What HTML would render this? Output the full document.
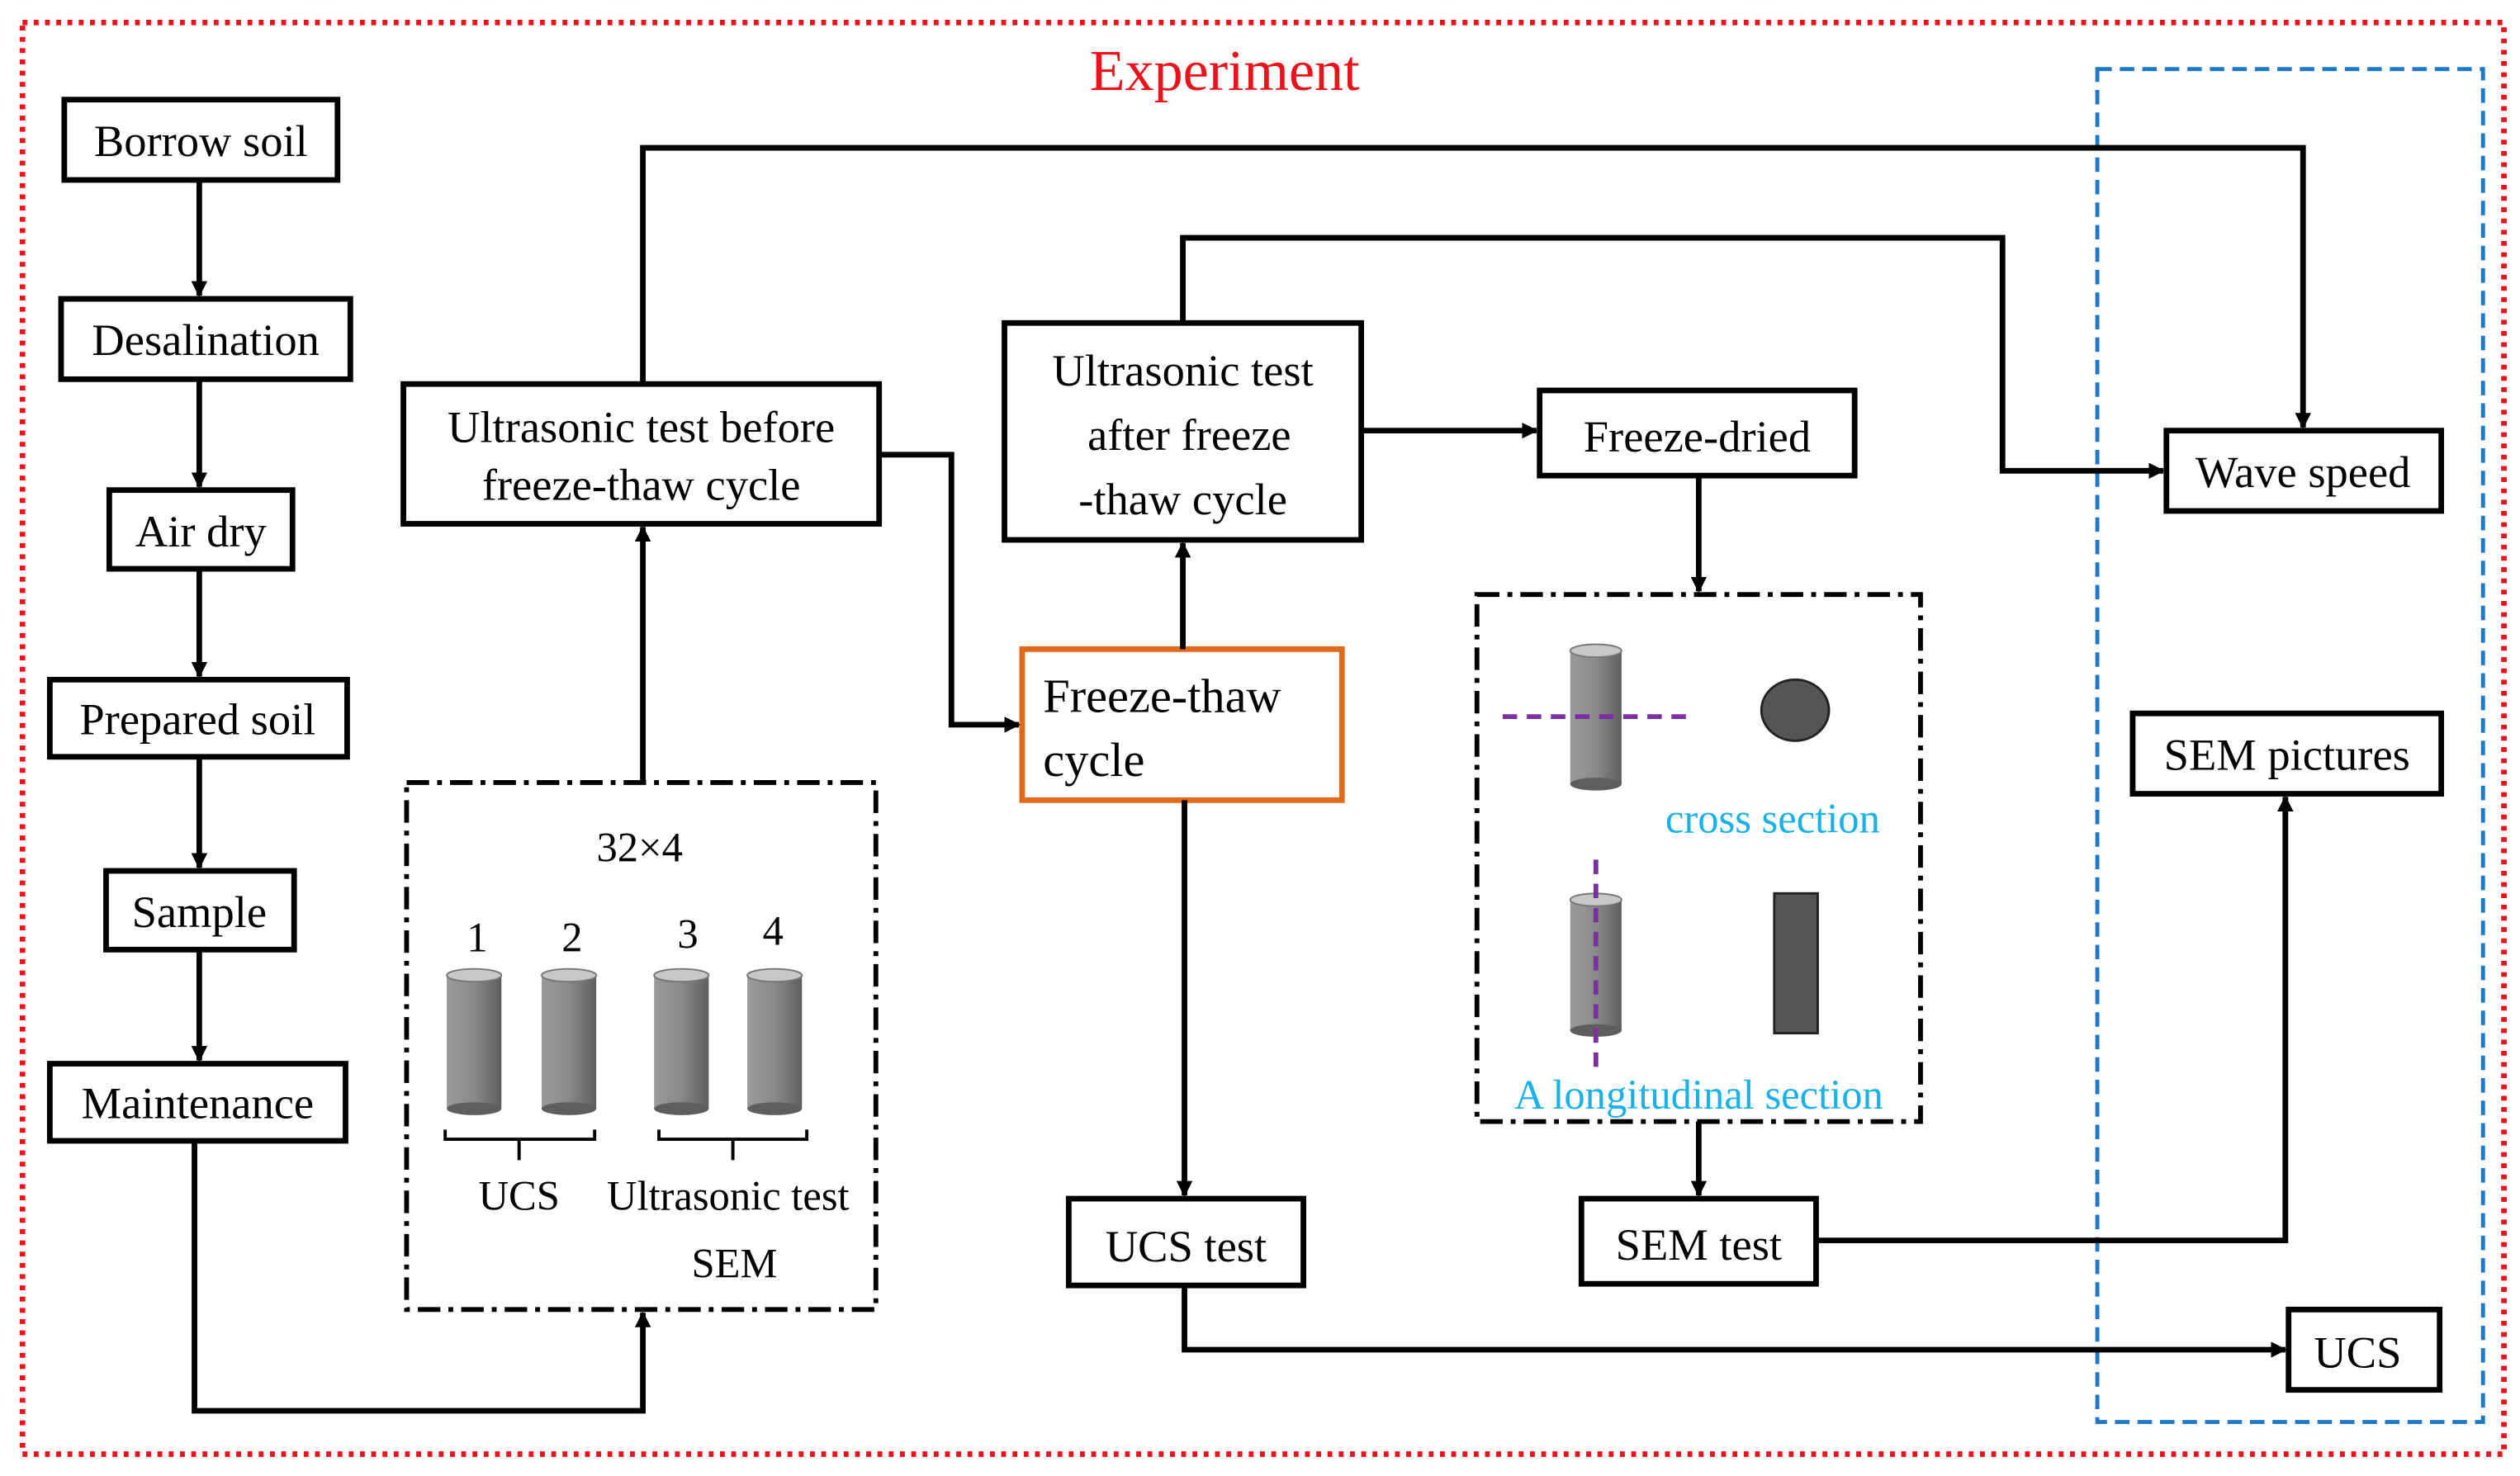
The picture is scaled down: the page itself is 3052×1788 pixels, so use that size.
<!DOCTYPE html>
<html><head><meta charset="utf-8"><style>
html,body{margin:0;padding:0;background:#fff;width:3052px;height:1788px;overflow:hidden}
svg{display:block}
text{font-family:"Liberation Serif",serif;}
</style></head><body>
<svg width="3052" height="1788" viewBox="0 0 1568 918.6" preserveAspectRatio="none" xmlns="http://www.w3.org/2000/svg">
<defs>
<marker id="a" markerWidth="10" markerHeight="10" refX="9" refY="5" orient="auto" markerUnits="userSpaceOnUse"><path d="M0,0 L10,5 L0,10 z" fill="#000"/></marker>
<linearGradient id="g" x1="0" y1="0" x2="1" y2="0"><stop offset="0" stop-color="#9a9a9a"/><stop offset="0.5" stop-color="#8a8a8a"/><stop offset="1" stop-color="#5e5e5e"/></linearGradient>
<g id="cyl">
<rect x="-17" y="0" width="34" height="83" fill="url(#g)"/>
<ellipse cx="0" cy="83" rx="17" ry="4" fill="#5e5e5e"/>
<ellipse cx="0" cy="0" rx="17" ry="4" fill="#c8c8c8" stroke="#777" stroke-width="1"/>
</g>
</defs>
<rect x="0" y="0" width="1568" height="918.6" fill="#fff"/>
<rect x="14" y="14" width="1544" height="891" fill="none" stroke="#e8131b" stroke-width="3.5" stroke-dasharray="3,4"/>
<rect x="1305" y="43" width="240" height="842" fill="none" stroke="#1f78c8" stroke-width="2.5" stroke-dasharray="9,5"/>
<text x="762" y="56" font-size="36" fill="#e8131b" text-anchor="middle">Experiment</text>

<g fill="#fff" stroke="#000" stroke-width="3.5">
<rect x="40" y="62" width="170" height="50"/>
<rect x="38" y="186" width="180" height="50"/>
<rect x="68" y="305" width="114" height="49"/>
<rect x="31" y="423" width="185" height="48"/>
<rect x="66" y="542" width="117" height="49"/>
<rect x="31" y="662" width="184" height="48"/>
<rect x="251" y="239" width="296" height="87"/>
<rect x="625" y="201" width="222" height="135"/>
<rect x="958" y="243" width="196" height="53"/>
<rect x="1348" y="268" width="171" height="50"/>
<rect x="1327" y="444" width="192" height="50"/>
<rect x="665" y="746" width="146" height="54"/>
<rect x="984" y="746" width="146" height="53"/>
<rect x="1424" y="815" width="94" height="50"/>
</g>
<rect x="636" y="404" width="199" height="94" fill="#fff" stroke="#e06a1a" stroke-width="3.5"/>
<g fill="none" stroke="#000" stroke-width="3" stroke-dasharray="14,5,3,5">
<rect x="253" y="487" width="292" height="328"/>
<rect x="919" y="370" width="276" height="328"/>
</g>

<g fill="none" stroke="#000" stroke-width="3.5" marker-end="url(#a)">
<path d="M124,112 V184"/>
<path d="M124,236 V303"/>
<path d="M124,354 V421"/>
<path d="M124,471 V540"/>
<path d="M124,591 V660"/>
<path d="M121,710 V878 H400 V817"/>
<path d="M400,487 V328"/>
<path d="M400,239 V92 H1433 V266"/>
<path d="M547,283 H592 V451 H634"/>
<path d="M736,404 V338"/>
<path d="M736,201 V148 H1246 V293 H1346"/>
<path d="M847,268 H956"/>
<path d="M1057,296 V368"/>
<path d="M1057,698 V744"/>
<path d="M1130,772 H1422 V496"/>
<path d="M737,498 V744"/>
<path d="M737,800 V840 H1422"/>
</g>

<g font-size="28" text-anchor="middle" fill="#000">
<text x="125" y="97">Borrow soil</text>
<text x="128" y="221">Desalination</text>
<text x="125" y="340">Air dry</text>
<text x="123" y="457">Prepared soil</text>
<text x="124" y="577">Sample</text>
<text x="123" y="696">Maintenance</text>
<text x="399" y="275">Ultrasonic test before</text>
<text x="399" y="311">freeze-thaw cycle</text>
<text x="736" y="240">Ultrasonic test</text>
<text x="740" y="280">after freeze</text>
<text x="736" y="320">-thaw cycle</text>
<text x="1056" y="281">Freeze-dried</text>
<text x="1433" y="303">Wave speed</text>
<text x="1423" y="479">SEM pictures</text>
<text x="738" y="785">UCS test</text>
<text x="1057" y="784">SEM test</text>
<text x="1467" y="851">UCS</text>
</g>
<g font-size="30" fill="#000">
<text x="649" y="443">Freeze-thaw</text>
<text x="649" y="483">cycle</text>
</g>

<g font-size="26" text-anchor="middle" fill="#000">
<text x="398" y="536">32×4</text>
<text x="297" y="592">1</text>
<text x="356" y="592">2</text>
<text x="428" y="590">3</text>
<text x="481" y="588">4</text>
<text x="323" y="753">UCS</text>
<text x="453" y="753">Ultrasonic test</text>
<text x="457" y="795">SEM</text>
</g>
<use href="#cyl" transform="translate(295,607)"/>
<use href="#cyl" transform="translate(354,607)"/>
<use href="#cyl" transform="translate(424,607)"/>
<use href="#cyl" transform="translate(482,607)"/>
<use href="#cyl" transform="translate(993,405) scale(0.94,1)"/>
<use href="#cyl" transform="translate(993,560) scale(0.94,0.98)"/>
<g fill="none" stroke="#000" stroke-width="2">
<path d="M277,703 V709 H370 V703 M323,709 V722"/>
<path d="M410,703 V709 H502 V703 M456,709 V722"/>
</g>
<path d="M935,446 H1052" stroke="#7b2fa0" stroke-width="3" stroke-dasharray="9,6"/>
<path d="M993,535 V668" stroke="#7b2fa0" stroke-width="3" stroke-dasharray="9,6"/>
<ellipse cx="1117" cy="442" rx="21" ry="19" fill="#555" stroke="#222" stroke-width="1.5"/>
<rect x="1104" y="556" width="27" height="87" fill="#555" stroke="#222" stroke-width="1.5"/>
<g font-size="26" fill="#1ab0e8" text-anchor="middle">
<text x="1103" y="518">cross section</text>
<text x="1057" y="690">A longitudinal section</text>
</g>
</svg>
</body></html>
